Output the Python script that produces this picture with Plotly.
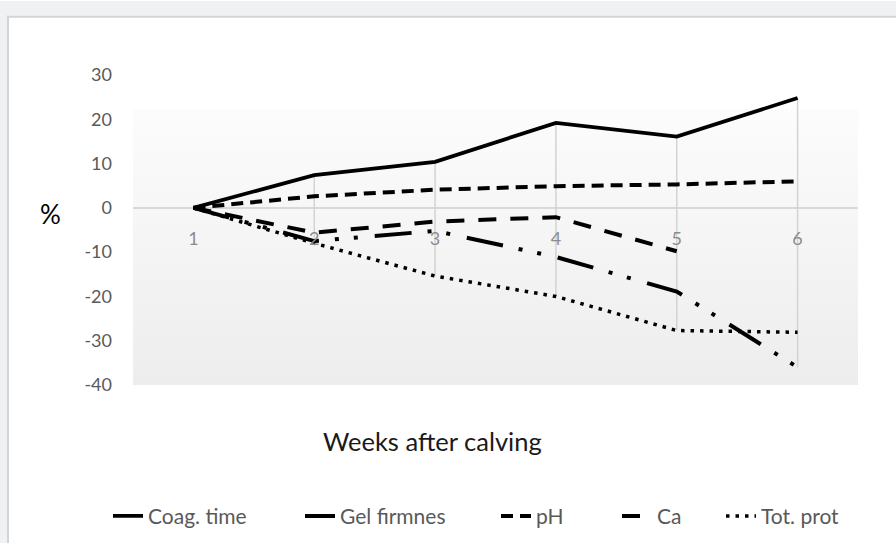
import base64
import plotly.graph_objects as go

# ---- data ----
weeks = [1, 2, 3, 4, 5, 6]
coag_time = [0, 7.4, 10.4, 19.2, 16.1, 24.8]
gel_firmnes = [0, -7.5, -5.2, -11.1, -18.9, -36.0]
ph = [0, 2.6, 4.1, 4.9, 5.3, 6.0]
ca = [0, -5.6, -3.1, -2.1, -9.8, None]
tot_prot = [0, -8.0, -15.4, -20.0, -27.7, -28.1]
y_ticks = [30, 20, 10, 0, -10, -20, -30, -40]

series = [
    ("Coag. time", coag_time, "solid", 3.8),
    ("Gel firmnes", gel_firmnes, "37px,16px,4px,15px,4px,17px", 4),
    ("pH", ph, "12px,7px", 4),
    ("Ca", ca, "18px,14px", 4),
    ("Tot. prot", tot_prot, "3.5px,6px", 3.5),
]
# pixel x where each legend text starts in the reference
legend_text_x = [148, 340, 536, 657, 761]

FONT = "Lato"

# ---- pixel geometry of the plot area ----
W, H = 896, 549
L, R, T, B = 133, 858, 75, 389
pw, ph_ = R - L, B - T


def px(x):
    return (x - L) / pw


def py(y):
    return (B - y) / ph_


fig = go.Figure()

# high-low lines (from max to min across series at each week)
hl_x, hl_y = [], []
for i, w in enumerate(weeks):
    vals = [s[1][i] for s in series if s[1][i] is not None]
    hl_x += [w, w, None]
    hl_y += [max(vals), min(vals), None]
fig.add_trace(go.Scatter(x=hl_x, y=hl_y, mode="lines",
                         line=dict(color="#d3d3d3", width=1.5),
                         showlegend=False, hoverinfo="skip"))

legend_layouts = {}
for k, (name, vals, dash, width) in enumerate(series):
    lg = "legend" if k == 0 else f"legend{k + 1}"
    fig.add_trace(go.Scatter(x=weeks, y=vals, mode="lines", name=name, legend=lg,
                             line=dict(color="black", width=width, dash=dash),
                             connectgaps=False))
    legend_layouts[lg] = dict(
        orientation="h", x=px(legend_text_x[k] - 40), y=py(522),
        xanchor="left", yanchor="middle",
        font=dict(family=FONT, size=21, color="#595959"),
        bgcolor="rgba(0,0,0,0)", borderwidth=0)

# gradient background of the plot area (as an svg image)
svg = ('<svg xmlns="http://www.w3.org/2000/svg" width="10" height="100" preserveAspectRatio="none">'
       '<defs><linearGradient id="g" x1="0" y1="0" x2="0" y2="1">'
       '<stop offset="0" stop-color="#fcfcfc"/><stop offset="1" stop-color="#ededed"/>'
       '</linearGradient></defs><rect width="10" height="100" fill="url(#g)"/></svg>')
src = "data:image/svg+xml;base64," + base64.b64encode(svg.encode()).decode()
grad_top = 22.3
fig.add_layout_image(dict(source=src, xref="x", yref="y", x=0.5, y=grad_top,
                          sizex=6, sizey=grad_top + 40, sizing="stretch",
                          layer="below", xanchor="left", yanchor="top"))

shapes = [
    # outer light-grey page strip at the top and left
    dict(type="rect", xref="paper", yref="paper", x0=px(0), x1=px(W), y0=py(15), y1=py(0),
         fillcolor="#f0f1f3", line=dict(width=0), layer="below"),
    dict(type="rect", xref="paper", yref="paper", x0=px(0), x1=px(7), y0=py(H), y1=py(15),
         fillcolor="#f0f1f3", line=dict(width=0), layer="below"),
    # frame of the chart
    dict(type="line", xref="paper", yref="paper", x0=px(7), x1=px(W), y0=py(16), y1=py(16),
         line=dict(color="#d4d4d4", width=2)),
    dict(type="line", xref="paper", yref="paper", x0=px(8), x1=px(8), y0=py(H), y1=py(15),
         line=dict(color="#d4d4d4", width=2)),
]

annotations = [
    dict(text="%", xref="paper", yref="paper", x=px(50), y=py(216), showarrow=False,
         font=dict(family=FONT, size=26, color="#000000"), xanchor="center", yanchor="middle"),
    dict(text="Weeks after calving", xref="paper", yref="paper", x=px(432), y=py(446),
         showarrow=False, font=dict(family=FONT, size=25.5, color="#1a1a1a"),
         xanchor="center", yanchor="middle"),
]

fig.update_layout(
    width=W, height=H,
    margin=dict(l=L, r=W - R, t=T, b=H - B, pad=0),
    paper_bgcolor="white", plot_bgcolor="white",
    font=dict(family=FONT),
    shapes=shapes, annotations=annotations,
    showlegend=True,
    xaxis=dict(range=[0.5, 6.5], tickmode="array", tickvals=weeks,
               ticktext=[str(w) for w in weeks], showgrid=False, zeroline=False,
               showline=False, ticks="", anchor="free", position=40 / 70,
               ticklabelstandoff=18,
               tickfont=dict(family=FONT, size=18, color="#8c8c8c")),
    yaxis=dict(range=[-40, 30], tickmode="array", tickvals=y_ticks,
               ticktext=[str(v) for v in y_ticks], showgrid=False, zeroline=True,
               zerolinecolor="#d9d9d9", zerolinewidth=1.5, showline=False, ticks="",
               ticklabelstandoff=20, domain=[0, 1],
               tickfont=dict(family=FONT, size=18, color="#595959")),
)
fig.update_layout(**legend_layouts)

pin_div = (
    "var d=document.getElementById('{plot_id}');"
    "d.style.position='absolute';d.style.left='0px';d.style.top='0px';"
    "document.body.style.margin='0px';"
)
fig.write_html("out.html", config={"displayModeBar": False}, post_script=pin_div)
